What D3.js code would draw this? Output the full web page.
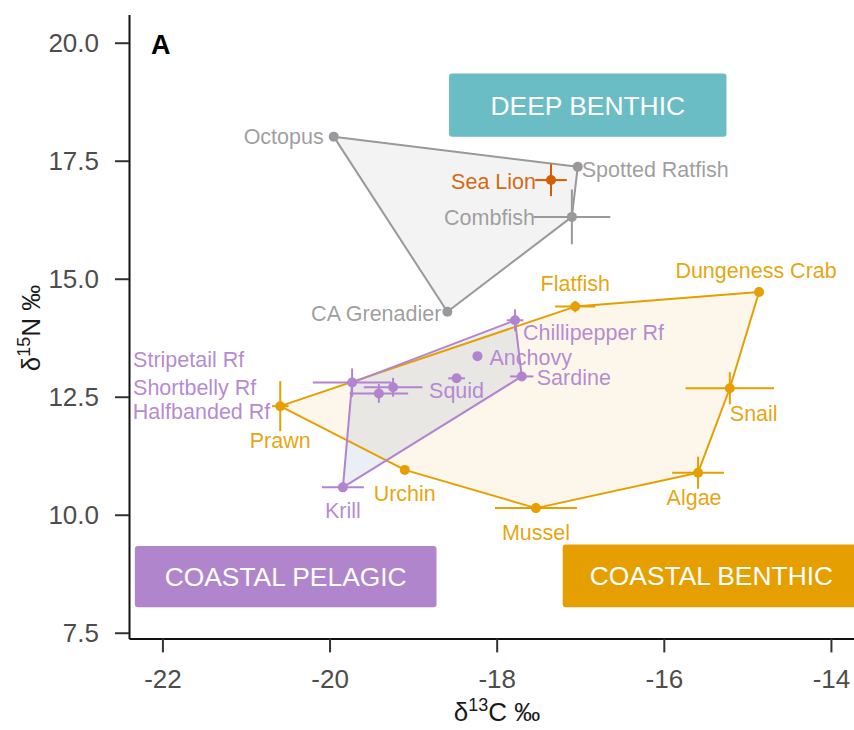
<!DOCTYPE html>
<html><head><meta charset="utf-8">
<script src="https://cdn.jsdelivr.net/npm/d3@7"></script>
<style>
html,body{margin:0;padding:0;background:#fff;}
svg{display:block;font-family:"Liberation Sans",Arial,sans-serif;}
</style></head>
<body>
<svg id="chart" width="854" height="730"></svg>
<script>
// ---------- data ----------
const species = ["Octopus","Spotted Ratfish","Combfish","CA Grenadier","Sea Lion",
  "Flatfish","Dungeness Crab","Snail","Algae","Mussel","Urchin","Prawn",
  "Chillipepper Rf","Anchovy","Sardine","Squid","Stripetail Rf","Shortbelly Rf","Halfbanded Rf","Krill"];
const groups = ["deep","deep","deep","deep","predator",
  "benthic","benthic","benthic","benthic","benthic","benthic","benthic",
  "pelagic","pelagic","pelagic","pelagic","pelagic","pelagic","pelagic","pelagic"];
const d13C = [-19.95,-17.03,-17.10,-18.59,-17.35,
  -17.06,-14.86,-15.21,-15.59,-17.53,-19.10,-20.59,
  -17.78,-18.23,-17.70,-18.48,-19.73,-19.24,-19.41,-19.84];
const d15N = [18.01,17.37,16.31,14.30,17.09,
  14.41,14.72,12.68,10.89,10.14,10.95,12.30,
  14.12,13.36,12.93,12.89,12.80,12.70,12.57,10.58];
const errC = [0,0,0.46,0,0.19,
  0.24,0,0.53,0.31,0.49,0,0.10,
  0.10,0.04,0.14,0.10,0.47,0.35,0.35,0.25];
const errN = [0,0,0.58,0,0.34,
  0.12,0,0.34,0.34,0.04,0,0.53,
  0.23,0.03,0.05,0.05,0.30,0.20,0.20,0.04];
const xTicks = [-22,-20,-18,-16,-14];
const yTicks = [7.5,10,12.5,15,17.5,20];
const boxLabels = ["DEEP BENTHIC","COASTAL PELAGIC","COASTAL BENTHIC"];
const boxGroups = ["deep","pelagic","benthic"];
const boxX0 = [-18.57,-22.33,-17.21];
const boxX1 = [-15.25,-18.72,-13.58];
const boxY0 = [18.01,8.04,8.04];
const boxY1 = [19.35,9.34,9.37];

// ---------- styles / layout ----------
const colors = {deep:"#999999", predator:"#D55E00", benthic:"#E69F00", pelagic:"#B284CF"};
const boxColors = {deep:"#6BBDC5", pelagic:"#B185CC", benthic:"#E69F00"};
const hullFill = {deep:["#dcdcdc",0.35], benthic:["#E69F00",0.08], pelagic:["#7f98c0",0.16]};
const labelPos = {
 "Octopus":{dx:-10,dy:0,a:"end"},
 "Spotted Ratfish":{dx:4,dy:2,a:"start"},
 "Sea Lion":{dx:-15,dy:1,a:"end"},
 "Combfish":{dx:-37,dy:0,a:"end"},
 "CA Grenadier":{dx:-6,dy:1,a:"end"},
 "Flatfish":{dx:0,dy:-23,a:"middle"},
 "Dungeness Crab":{dx:-3,dy:-22,a:"middle"},
 "Chillipepper Rf":{dx:8,dy:12,a:"start"},
 "Anchovy":{dx:12,dy:1,a:"start"},
 "Sardine":{dx:15,dy:1,a:"start"},
 "Squid":{dx:0,dy:12,a:"middle"},
 "Stripetail Rf":{dx:-219,dy:-23,a:"start"},
 "Shortbelly Rf":{dx:-260,dy:0,a:"start"},
 "Halfbanded Rf":{dx:-246,dy:18,a:"start"},
 "Prawn":{dx:0,dy:34,a:"middle"},
 "Urchin":{dx:0,dy:23,a:"middle"},
 "Krill":{dx:0,dy:23,a:"middle"},
 "Mussel":{dx:0,dy:24,a:"middle"},
 "Snail":{dx:0,dy:25,a:"start"},
 "Algae":{dx:-4,dy:25,a:"middle"}
};

const pts = species.map((s,i)=>({name:s,g:groups[i],c:d13C[i],n:d15N[i],ec:errC[i],en:errN[i]}));

const svg = d3.select("#chart");
const x = d3.scaleLinear().domain([-22.4,-13.7]).range([129,856]);
const y = d3.scaleLinear().domain([7.38,20.6]).range([638.4,14.4]);

// hulls
const hullOrder = ["benthic","pelagic","deep"];
hullOrder.forEach(g=>{
  const p = pts.filter(d=>d.g===g).map(d=>[x(d.c),y(d.n)]);
  const h = d3.polygonHull(p);
  svg.append("path").attr("d","M"+h.join("L")+"Z")
    .attr("fill",hullFill[g][0]).attr("fill-opacity",hullFill[g][1]);
});
hullOrder.forEach(g=>{
  const p = pts.filter(d=>d.g===g).map(d=>[x(d.c),y(d.n)]);
  const h = d3.polygonHull(p);
  svg.append("path").attr("d","M"+h.join("L")+"Z")
    .attr("fill","none").attr("stroke",colors[g]).attr("stroke-width",2).attr("stroke-linejoin","round");
});

// error bars
const eb = svg.append("g");
pts.filter(d=>d.ec>0).forEach(d=>{
  eb.append("line").attr("x1",x(d.c-d.ec)).attr("x2",x(d.c+d.ec))
    .attr("y1",y(d.n)).attr("y2",y(d.n)).attr("stroke",colors[d.g]).attr("stroke-width",2);
});
pts.filter(d=>d.en>0).forEach(d=>{
  eb.append("line").attr("x1",x(d.c)).attr("x2",x(d.c))
    .attr("y1",y(d.n-d.en)).attr("y2",y(d.n+d.en)).attr("stroke",colors[d.g]).attr("stroke-width",2);
});

// points
svg.append("g").selectAll("circle").data(pts).join("circle")
  .attr("cx",d=>x(d.c)).attr("cy",d=>y(d.n)).attr("r",5).attr("fill",d=>colors[d.g]);

// labels
svg.append("g").selectAll("text").data(pts).join("text")
  .attr("x",d=>x(d.c)+labelPos[d.name].dx)
  .attr("y",d=>y(d.n)+labelPos[d.name].dy)
  .attr("dy","0.36em")
  .attr("text-anchor",d=>labelPos[d.name].a)
  .attr("font-size",21.5).attr("fill",d=>colors[d.g]).attr("fill-opacity",0.95)
  .text(d=>d.name);

// group boxes
boxLabels.forEach((t,i)=>{
  const x0=x(boxX0[i]), x1=x(boxX1[i]), y0=y(boxY1[i]), y1=y(boxY0[i]);
  svg.append("rect").attr("x",x0).attr("y",y0).attr("width",x1-x0).attr("height",y1-y0)
    .attr("rx",3).attr("fill",boxColors[boxGroups[i]]);
  const tx = i===2 ? x0+27 : (x0+x1)/2;
  svg.append("text").attr("x",tx).attr("y",(y0+y1)/2).attr("dy","0.36em")
    .attr("text-anchor",i===2?"start":"middle").attr("font-size",26.4).attr("fill","#fff").text(t);
});

// axes
const xAxis = d3.axisBottom(x).tickValues(xTicks).tickFormat(d3.format("d")).tickSize(14).tickSizeOuter(0);
const gx = svg.append("g").attr("transform","translate(0,638.4)").call(xAxis);
const yAxis = d3.axisLeft(y).tickValues(yTicks).tickFormat(d3.format(".1f")).tickSize(14).tickSizeOuter(0);
const gy = svg.append("g").attr("transform","translate(129,0)").call(yAxis);
[gx,gy].forEach(g=>{
  g.select(".domain").attr("stroke","#111").attr("stroke-width",2);
  g.selectAll(".tick line").attr("stroke","#333").attr("stroke-width",2);
  g.selectAll(".tick text").attr("fill","#4d4d4d").attr("font-size",26).attr("font-family","Liberation Sans, Arial, sans-serif");
});
gx.selectAll(".tick text").attr("dy","0").attr("y",50).text(d=>"-"+Math.abs(d));
gy.selectAll(".tick text").attr("x",-30);

// axis titles
const xt = svg.append("text").attr("x",497).attr("y",721).attr("text-anchor","middle")
  .attr("font-size",26).attr("fill","#1a1a1a");
xt.append("tspan").text("δ");
xt.append("tspan").attr("font-size",18).attr("dy",-10).text("13");
xt.append("tspan").attr("dy",10).text("C ‰");

const yt = svg.append("text").attr("transform","translate(40,328) rotate(-90)").attr("text-anchor","middle")
  .attr("font-size",26).attr("fill","#1a1a1a");
yt.append("tspan").text("δ");
yt.append("tspan").attr("font-size",18).attr("dy",-10).text("15");
yt.append("tspan").attr("dy",10).text("N ‰");

// panel letter
svg.append("text").attr("x",151).attr("y",54).attr("font-size",27).attr("font-weight","bold").attr("fill","#000").text("A");
</script>
</body></html>
